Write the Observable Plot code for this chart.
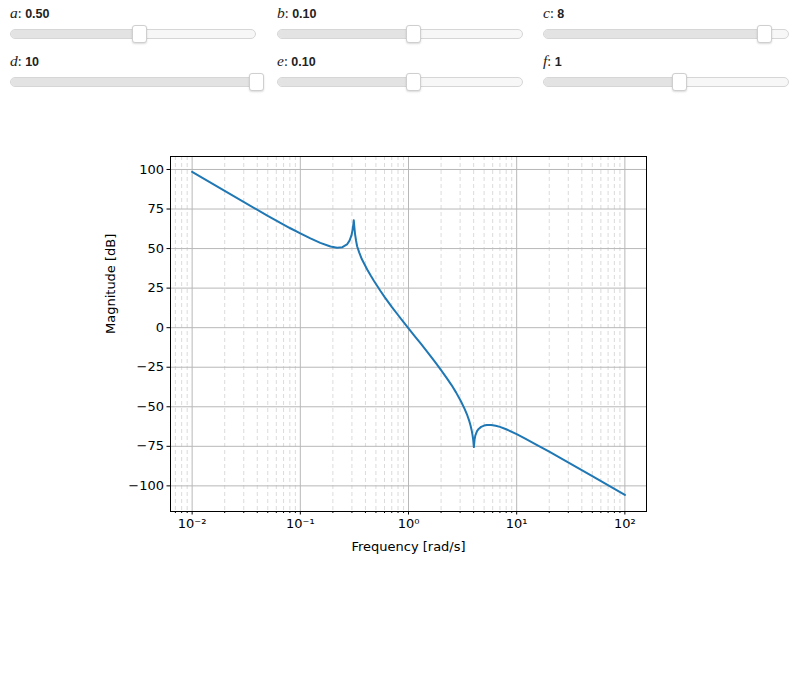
<!DOCTYPE html>
<html><head><meta charset="utf-8">
<script src="https://cdn.jsdelivr.net/npm/d3@7"></script>
<script src="https://cdn.jsdelivr.net/npm/@observablehq/plot@0.6"></script>
<style>
body{margin:0;background:#fff;width:800px;height:675px;overflow:hidden;font-family:"Liberation Sans",Arial,sans-serif;}
#controls{position:relative;height:100px;}
.ctl{position:absolute;width:246px;height:44px;}
.lbl{position:absolute;left:0;top:5px;font-size:12.5px;color:#222;white-space:nowrap;line-height:16px;}
.lbl i{font-family:"Liberation Serif","DejaVu Serif",serif;font-size:15.5px;}
.lbl .c{font-family:"Liberation Serif",serif;font-size:14px;}
.lbl b{font-weight:bold;}
.track{position:absolute;left:0;top:29px;width:244px;height:8px;border:1px solid #d6d6d6;border-radius:5px;background:#f7f7f7;overflow:hidden;}
.fill{position:absolute;left:0;top:0;height:100%;background:#e3e3e3;}
.thumb{position:absolute;top:25px;width:13px;height:16px;background:#fff;border:1px solid #cfcfcf;border-radius:3px;box-shadow:0 1px 2px rgba(0,0,0,0.15);}
#chart{position:absolute;left:0;top:100px;}
</style>
</head><body>
<div id="controls"></div>
<div id="chart"></div>
<script>
// slider parameters
const sliderNames = ["a", "b", "c", "d", "e", "f"];
const sliderValues = [0.5, 0.1, 8, 10, 0.1, 1];
const sliderLabels = ["0.50", "0.10", "8", "10", "0.10", "1"];
const sliderMin = [0, 0, 0, 0, 0, 0];
const sliderMax = [0.955, 0.1815, 8.9, 10, 0.1815, 1.81];

// Bode magnitude curve
const freq = [0.01, 0.02, 0.05, 0.08, 0.1, 0.124, 0.153, 0.19, 0.219, 0.245, 0.27, 0.285, 0.297, 0.305, 0.31, 0.312, 0.315, 0.32, 0.328, 0.335, 0.35, 0.37, 0.415, 0.45, 0.48, 0.551, 0.6, 0.7, 0.8, 0.853, 1.0, 1.15, 1.306, 1.6, 1.8, 2.0, 2.25, 2.5, 2.75, 3.06, 3.3, 3.5, 3.65, 3.75, 3.85, 3.9, 3.97, 4.02, 4.08, 4.15, 4.3, 4.45, 4.69, 5.0, 5.3, 5.81, 6.4, 7, 8, 10, 12, 15, 20, 25.5, 50, 100];
const magnitude = [98.5, 86.5, 70.6, 63.0, 59.6, 56.4, 53.6, 51.3, 50.5, 50.9, 52.6, 55.0, 58.3, 62.3, 66, 67.9, 64.5, 59.5, 54.8, 51.5, 47.6, 43.4, 36.8, 32.6, 29.5, 23.2, 19.5, 13.2, 8.0, 5.5, -0.4, -5.6, -10.3, -18.0, -22.6, -26.8, -31.7, -36.3, -40.9, -46.7, -51.3, -55.5, -59.1, -62.0, -65.4, -67.5, -71.3, -75.5, -70.8, -68.1, -65.4, -64.0, -62.7, -61.9, -61.5, -61.5, -62.0, -62.7, -64.2, -67.3, -70.1, -73.7, -78.4, -82.4, -93.9, -105.7];

// axis ticks
const xMajorTicks = [0.01, 0.1, 1, 10, 100];
const xMajorLabels = ["10⁻²", "10⁻¹", "10⁰", "10¹", "10²"];
const yTicks = [-100, -75, -50, -25, 0, 25, 50, 75, 100];
const xDomain = [10 ** -2.2, 10 ** 2.2];
const yDomain = [-116.2, 108.2];

const xMinorTicks = [];
for (let e = -3; e <= 2; e++) for (let m = 2; m <= 9; m++) {
  const v = m * 10 ** e;
  if (v >= xDomain[0] && v <= xDomain[1]) xMinorTicks.push(+v.toPrecision(3));
}

// sliders
const controls = document.getElementById("controls");
const colLeft = [10, 277, 543];
const rowTop = [0, 48];
sliderNames.forEach((n, i) => {
  const d = document.createElement("div");
  d.className = "ctl";
  d.style.left = colLeft[i % 3] + "px";
  d.style.top = rowTop[Math.floor(i / 3)] + "px";
  const frac = (sliderValues[i] - sliderMin[i]) / (sliderMax[i] - sliderMin[i]);
  const cx = frac * 246;
  d.innerHTML = `<div class="lbl"><i>${n}</i><span class="c">:</span> <b>${sliderLabels[i]}</b></div>
    <div class="track"><div class="fill" style="width:${cx}px"></div></div>
    <div class="thumb" style="left:${cx - 7}px"></div>`;
  controls.appendChild(d);
});

const data = freq.map((f, i) => ({f, m: magnitude[i]}));
const fmtY = d => d < 0 ? "\u2212" + Math.abs(d) : String(d);

const chart = Plot.plot({
  width: 800, height: 575,
  marginLeft: 170, marginRight: 154, marginTop: 56, marginBottom: 164,
  style: {fontFamily: "'DejaVu Sans', sans-serif", fontSize: "12.5px", color: "#000", background: "white", overflow: "visible"},
  x: {type: "log", domain: xDomain},
  y: {domain: yDomain},
  marks: [
    Plot.gridX(xMinorTicks, {stroke: "#d2d2d2", strokeOpacity: 1, strokeDasharray: "4,3", strokeWidth: 0.8}),
    Plot.gridX(xMajorTicks, {stroke: "#b8b8b8", strokeOpacity: 1, strokeWidth: 1}),
    Plot.gridY(yTicks, {stroke: "#b8b8b8", strokeOpacity: 1, strokeWidth: 1}),
    Plot.axisX(xMinorTicks, {tickSize: 2, tickFormat: () => "", label: null}),
    Plot.axisX(xMajorTicks, {tickSize: 3.5, tickPadding: 4, tickFormat: d => xMajorLabels[xMajorTicks.indexOf(d)], label: null, fontSize: 13}),
    Plot.axisY(yTicks, {tickSize: 3.5, tickPadding: 3, tickFormat: fmtY, label: null, fontSize: 13}),
    Plot.line(data, {x: "f", y: "m", stroke: "#1f77b4", strokeWidth: 2}),
    Plot.frame({stroke: "black", strokeWidth: 1}),
    Plot.text(["Frequency [rad/s]"], {frameAnchor: "bottom", dy: 39, fontSize: 13}),
    Plot.text(["Magnitude [dB]"], {frameAnchor: "left", dx: -60, rotate: -90, fontSize: 13})
  ]
});
document.getElementById("chart").appendChild(chart);
</script>
</body></html>
